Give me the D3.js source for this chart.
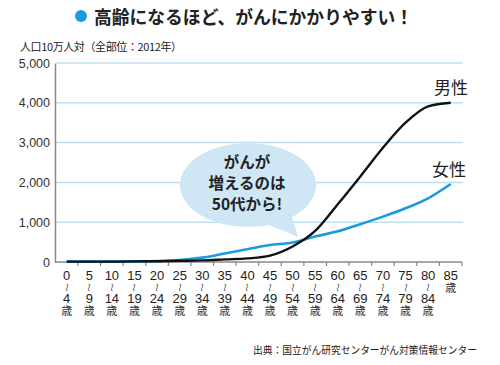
<!DOCTYPE html>
<html><head><meta charset="utf-8">
<script src="https://cdn.jsdelivr.net/npm/d3@7"></script>
<style>
body{margin:0;background:#fff;}
svg{display:block;}
text{font-family:"Liberation Sans","Noto Sans CJK JP",sans-serif;}
.jp{font-family:"Noto Sans CJK JP","Noto Sans CJK SC",sans-serif;}
</style></head>
<body><svg id="c" width="500" height="365"></svg>
<script>
const ageStart = [0,5,10,15,20,25,30,35,40,45,50,55,60,65,70,75,80,85];
const ageEnd   = [4,9,14,19,24,29,34,39,44,49,54,59,64,69,74,79,84,null];
const male   = [10,10,10,15,20,30,40,65,90,160,390,780,1450,2150,2870,3500,3910,4000];
const female = [10,10,10,15,25,50,110,215,320,425,490,640,770,950,1140,1350,1600,1960];
const yTicks = [0,1000,2000,3000,4000,5000];
const titleText = "高齢になるほど、がんにかかりやすい！";
const unitText = "人口10万人対（全部位：2012年）";
const bubbleLines = ["がんが","増えるのは","50代から!"];
const sourceText = "出典：国立がん研究センターがん対策情報センター";

const svg = d3.select("#c");
const x = d3.scaleBand().domain(ageStart.map(String)).range([55.4, 462]);
const y = d3.scaleLinear().domain([0,5000]).range([262,63]);
const cx = d => x(String(d)) + x.bandwidth()/2;

// title
svg.append("circle").attr("cx",81).attr("cy",16).attr("r",6).attr("fill","#1a9be0");
svg.append("text").attr("class","jp").attr("x",94).attr("y",23.5)
  .attr("font-size",18.5).attr("font-weight","bold").attr("fill","#222")
  .attr("textLength",319).attr("lengthAdjust","spacingAndGlyphs").text(titleText);
svg.append("text").attr("class","jp").attr("x",20).attr("y",51)
  .attr("font-size",11).attr("fill","#222").attr("textLength",162).text(unitText);

// gridlines
svg.append("g").selectAll("line").data(yTicks.filter(d=>d>0)).join("line")
  .attr("x1",56).attr("x2",463).attr("y1",d=>y(d)).attr("y2",d=>y(d))
  .attr("stroke","#bfe0f1").attr("stroke-width",1.5);

// y axis
const ya = svg.append("g").attr("transform","translate(55,0)")
  .call(d3.axisLeft(y).tickValues(yTicks).tickFormat(d3.format(",")).tickSize(0).tickPadding(5));
ya.select(".domain").attr("stroke","#888").attr("stroke-width",1.5);
ya.selectAll("text").attr("font-size",12.5).attr("fill","#333").attr("font-family","Liberation Sans");

// x axis
svg.append("line").attr("x1",55).attr("x2",462).attr("y1",262).attr("y2",262)
  .attr("stroke","#888").attr("stroke-width",1.5);
const bounds = ageStart.map(d=>x(String(d))).concat([x.range()[1]]);
svg.append("g").selectAll("line").data(bounds.slice(1)).join("line")
  .attr("x1",d=>d).attr("x2",d=>d).attr("y1",262).attr("y2",266)
  .attr("stroke","#888").attr("stroke-width",1.2);
const xl = svg.append("g").selectAll("g").data(ageStart).join("g")
  .attr("transform",d=>`translate(${cx(d)},0)`);
xl.append("text").attr("y",280).attr("text-anchor","middle").attr("font-size",13).attr("fill","#222").text(d=>d);
xl.each(function(d,i){
  const g = d3.select(this);
  if (ageEnd[i] !== null) {
    g.append("text").attr("class","jp").attr("text-anchor","middle").attr("font-size",8.5).attr("fill","#333")
      .attr("transform","translate(0,287.5) rotate(90)").attr("dy","0.35em").text("〜");
    g.append("text").attr("y",302.5).attr("text-anchor","middle").attr("font-size",13).attr("fill","#222").text(ageEnd[i]);
    g.append("text").attr("class","jp").attr("y",314.5).attr("text-anchor","middle").attr("font-size",11).attr("fill","#333").text("歳");
  } else {
    g.append("text").attr("class","jp").attr("y",292).attr("text-anchor","middle").attr("font-size",11).attr("fill","#333").text("歳");
  }
});

// bubble
const bub = svg.append("g");
bub.append("path").attr("d","M262,222 L298,237 L290,210 Z").attr("fill","#cfe7f5");
bub.append("ellipse").attr("cx",248).attr("cy",185).attr("rx",68).attr("ry",42).attr("fill","#cfe7f5");
bub.selectAll("text").data(bubbleLines).join("text").attr("class","jp")
  .attr("x",247).attr("y",(d,i)=>168+i*21).attr("text-anchor","middle")
  .attr("font-size",15.5).attr("font-weight","bold").attr("fill","#222").text(d=>d);

// lines
const line = d3.line().x((d,i)=>cx(ageStart[i])).y(d=>y(d)).curve(d3.curveMonotoneX);
svg.append("path").datum(female).attr("d",line).attr("fill","none").attr("stroke","#1a9be0").attr("stroke-width",2.6);
svg.append("path").datum(male).attr("d",line).attr("fill","none").attr("stroke","#111").attr("stroke-width",2.4);

// series labels
svg.append("text").attr("class","jp").attr("x",434).attr("y",94).attr("font-size",17).attr("fill","#222").text("男性");
svg.append("text").attr("class","jp").attr("x",432).attr("y",176).attr("font-size",17).attr("fill","#222").text("女性");

// source
svg.append("text").attr("class","jp").attr("x",253).attr("y",354).attr("font-size",10.5).attr("fill","#222")
  .attr("textLength",224).attr("lengthAdjust","spacingAndGlyphs").text(sourceText);
</script></body></html>
